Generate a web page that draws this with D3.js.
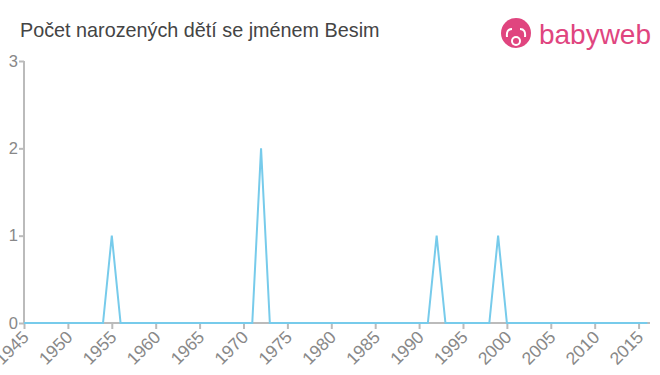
<!DOCTYPE html>
<html>
<head>
    <meta charset="utf-8">
    <style>
        body {
            margin: 0;
            background: #fff;
            font-family: "Liberation Sans", Arial, sans-serif;
        }
        svg {
            display: block;
        }
    </style>
</head>
<body>
    <svg width="660" height="375"></svg>

<script src="https://d3js.org/d3.v7.min.js"></script>
<script>
    // years where the line has a vertex, and the number of births then
    const years = [1945, 1954, 1955, 1956, 1971, 1972, 1973, 1991, 1992, 1993, 1998, 1999, 2000, 2016];
    const counts = [0, 0, 1, 0, 0, 2, 0, 0, 1, 0, 0, 1, 0, 0];
    const xTicks = [1945, 1950, 1955, 1960, 1965, 1970, 1975, 1980, 1985, 1990, 1995, 2000, 2005, 2010, 2015];
    const yTicks = [0, 1, 2, 3];

    const data = years.map((y, i) => ({ year: y, value: counts[i] }));

    const svg = d3.select("svg");

    const x = d3.scaleLinear()
        .domain([1945, 2016.3])
        .range([24, 650]);

    const y = d3.scaleLinear()
        .domain([0, 3])
        .range([323, 61]);

    // title
    svg.append("text")
        .attr("x", 20)
        .attr("y", 37)
        .attr("font-size", 19.8)
        .style("fill", "#444")
        .text("Počet narozených dětí se jménem Besim");

    // logo
    let logo = svg.append("g").attr("transform", "translate(516,33)");
    logo.append("circle").attr("r", 15).style("fill", "#e0457f");
    logo.append("circle").attr("cx", 0).attr("cy", 8).attr("r", 5).style("fill", "#fff");
    logo.append("circle").attr("cx", 0).attr("cy", 8).attr("r", 3).style("fill", "#e0457f");
    logo.append("path")
        .attr("d", "M-9,4 Q-10,-4 -4,-4 M9,4 Q10,-4 4,-4")
        .style("fill", "none").style("stroke", "#fff").style("stroke-width", 2);
    svg.append("text")
        .attr("x", 539)
        .attr("y", 44)
        .attr("font-size", 28)
        .attr("textLength", 112)
        .style("fill", "#e0457f")
        .text("babyweb");

    // y axis
    let yAxis = svg.append("g")
        .attr("transform", "translate(24,0)")
        .call(d3.axisLeft(y).tickValues(yTicks).tickSize(5).tickFormat(d3.format("d")));
    yAxis.select(".domain").style("stroke", "#bbb").style("stroke-width", 2)
        .attr("d", "M0," + y(3) + "V" + y(0));
    yAxis.selectAll(".tick line").style("stroke", "#bbb").style("stroke-width", 2);
    yAxis.selectAll(".tick text")
        .attr("x", -6)
        .attr("font-size", 16.5)
        .attr("font-family", "Liberation Sans, Arial, sans-serif")
        .style("fill", "#888");

    // x axis
    let xAxis = svg.append("g")
        .attr("transform", "translate(0," + y(0) + ")")
        .call(d3.axisBottom(x).tickValues(xTicks).tickSize(6).tickFormat(d3.format("d")));
    xAxis.select(".domain").style("stroke", "#bbb").style("stroke-width", 2)
        .attr("d", "M" + x(1945) + ",0H650");
    xAxis.selectAll(".tick line").style("stroke", "#bbb").style("stroke-width", 2);
    xAxis.selectAll(".tick text")
        .attr("x", 0)
        .attr("y", 0)
        .attr("dy", "0.35em")
        .attr("font-size", 17.5)
        .attr("font-family", "Liberation Sans, Arial, sans-serif")
        .style("text-anchor", "end")
        .style("fill", "#888")
        .attr("transform", "translate(1,11) rotate(-45)");

    // line
    let line = d3.line()
        .x(d => x(d.year))
        .y(d => y(d.value));

    svg.append("path")
        .datum(data)
        .attr("d", line)
        .style("fill", "none")
        .style("stroke", "#77cbeb")
        .style("stroke-width", 2);
</script>
</body>
</html>
